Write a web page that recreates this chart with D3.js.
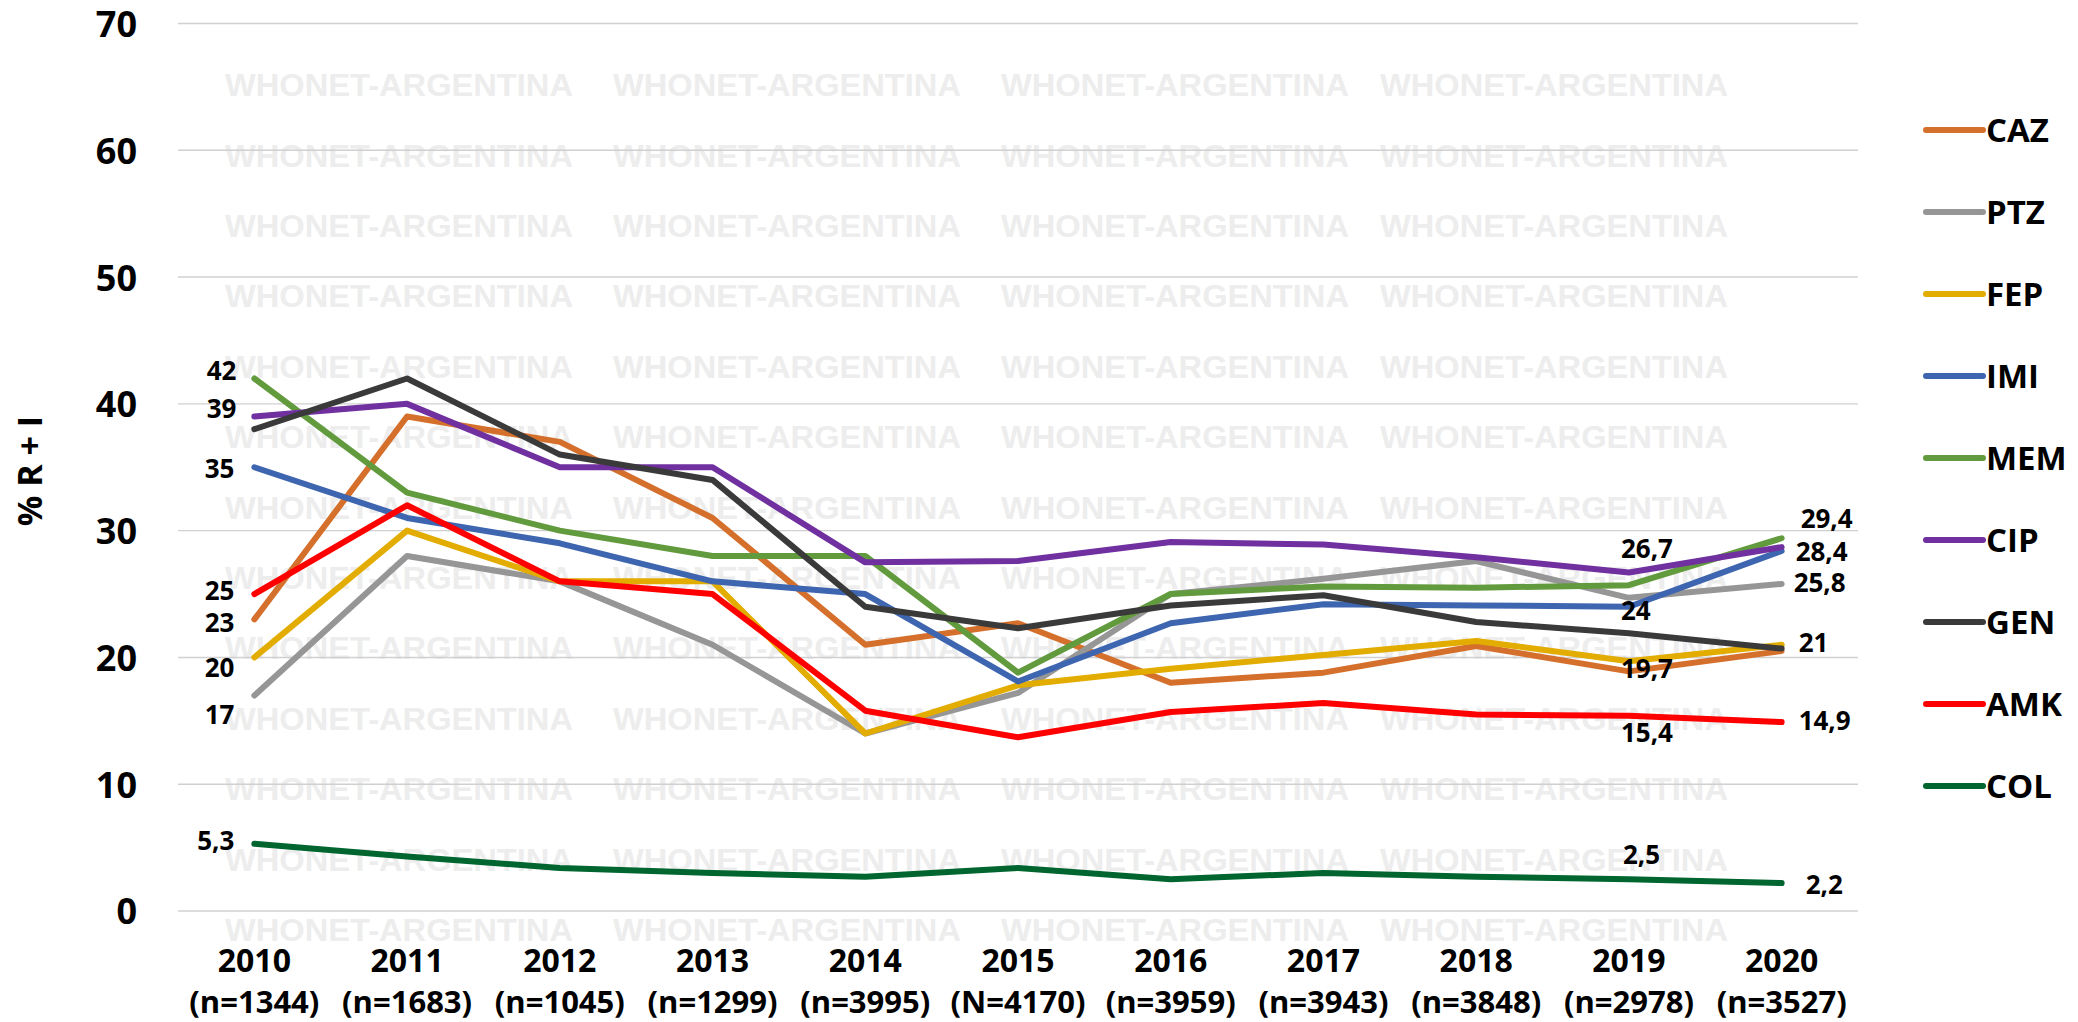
<!DOCTYPE html>
<html>
<head>
<meta charset="utf-8">
<script src="https://cdn.jsdelivr.net/npm/d3@7"></script>
<style>
  body { margin: 0; background: #fff; }
  svg { display: block; font-family: "Open Sans", "Noto Sans", sans-serif; font-weight: 700; }
</style>
</head>
<body>
<svg id="chart" width="2078" height="1022"></svg>
<script>
// --- data ---
const years = ["2010", "2011", "2012", "2013", "2014", "2015", "2016", "2017", "2018", "2019", "2020"];
const sampleSizes = ["(n=1344)", "(n=1683)", "(n=1045)", "(n=1299)", "(n=3995)", "(N=4170)",
                     "(n=3959)", "(n=3943)", "(n=3848)", "(n=2978)", "(n=3527)"];
const yTicks = [0, 10, 20, 30, 40, 50, 60, 70];

const seriesNames = ["CAZ", "PTZ", "FEP", "IMI", "MEM", "CIP", "GEN", "AMK", "COL"];
const CAZ = [23, 39, 37, 31, 21, 22.7, 18, 18.8, 20.9, 18.9, 20.5];
const PTZ = [17, 28, 26, 21, 14, 17.2, 25, 26.2, 27.6, 24.7, 25.8];
const FEP = [20, 30, 26, 26, 14, 17.8, 19.1, 20.2, 21.3, 19.7, 21];
const IMI = [35, 31, 29, 26, 25, 18.1, 22.7, 24.2, 24.1, 24, 28.4];
const MEM = [42, 33, 30, 28, 28, 18.8, 25, 25.6, 25.5, 25.7, 29.4];
const CIP = [39, 40, 35, 35, 27.5, 27.6, 29.1, 28.9, 27.9, 26.7, 28.7];
const GEN = [38, 42, 36, 34, 24, 22.3, 24.1, 24.9, 22.8, 21.9, 20.7];
const AMK = [25, 32, 26, 25, 15.8, 13.7, 15.7, 16.4, 15.5, 15.4, 14.9];
const COL = [5.3, 4.3, 3.4, 3.0, 2.7, 3.4, 2.5, 3.0, 2.7, 2.5, 2.2];

// data labels shown on the chart: [series, year index, text]
const pointLabels = [
  ["MEM", 0, "42"], ["CIP", 0, "39"], ["IMI", 0, "35"], ["AMK", 0, "25"],
  ["CAZ", 0, "23"], ["FEP", 0, "20"], ["PTZ", 0, "17"], ["COL", 0, "5,3"],
  ["CIP", 9, "26,7"], ["IMI", 9, "24"], ["FEP", 9, "19,7"], ["AMK", 9, "15,4"], ["COL", 9, "2,5"],
  ["MEM", 10, "29,4"], ["IMI", 10, "28,4"], ["PTZ", 10, "25,8"], ["FEP", 10, "21"],
  ["AMK", 10, "14,9"], ["COL", 10, "2,2"]
];

// --- styling ---
const colors = {
  CAZ: "#D5702C", PTZ: "#969696", FEP: "#E2AC00", IMI: "#3E65AF", MEM: "#629B3E",
  CIP: "#7030A0", GEN: "#3A3A3A", AMK: "#FF0000", COL: "#00652F"
};
// hand placement of each label relative to its point (as in the original)
const labelOffsets = {
  "MEM0": [-18, -8], "CIP0": [-18, -8], "IMI0": [-20, 1], "AMK0": [-20, -3],
  "CAZ0": [-20, 3], "FEP0": [-20, 10], "PTZ0": [-20, 19], "COL0": [-20, -3],
  "CIP9": [-8, -24], "IMI9": [-8, 4], "FEP9": [-8, 7], "AMK9": [-8, 17], "COL9": [-6, -25],
  "MEM10": [19, -20], "IMI10": [14, 1], "PTZ10": [12, -1], "FEP10": [17, -2],
  "AMK10": [17, -1], "COL10": [24, 2]
};

const valuesByName = { CAZ, PTZ, FEP, IMI, MEM, CIP, GEN, AMK, COL };
const series = seriesNames.map(name => ({ name, values: valuesByName[name] }));

const svg = d3.select("#chart");

const x = d3.scalePoint()
  .domain(years)
  .range([178, 1858])
  .padding(0.5);

const y = d3.scaleLinear()
  .domain([0, 70])
  .range([911, 23.5]);

// watermark behind everything
const wmRows = d3.range(13).map(k => 85 + k * 70.4);
const wmCols = [225, 613, 1001, 1380];
const wm = svg.append("g")
  .style("font-family", "'Liberation Sans', Arial, sans-serif")
  .style("font-size", "31px")
  .style("font-weight", 700)
  .attr("fill", "#EDEDED");
wmRows.forEach(ry => {
  wmCols.forEach(cx => {
    wm.append("text")
      .attr("x", cx)
      .attr("y", ry)
      .attr("dy", "0.36em")
      .attr("textLength", 348)
      .attr("lengthAdjust", "spacingAndGlyphs")
      .text("WHONET-ARGENTINA");
  });
});

// gridlines
svg.append("g")
  .selectAll("line")
  .data(yTicks)
  .join("line")
  .attr("x1", 178)
  .attr("x2", 1858)
  .attr("y1", d => y(d))
  .attr("y2", d => y(d))
  .attr("stroke", "#D0D0D0")
  .attr("stroke-width", 1.4);

// y axis labels
const yAxis = svg.append("g")
  .attr("transform", "translate(178,0)")
  .call(d3.axisLeft(y).tickValues(yTicks).tickSize(0).tickPadding(41));
yAxis.select(".domain").remove();
yAxis.selectAll("text")
  .style("font-family", "'Open Sans', sans-serif")
  .style("font-size", "36px")
  .style("font-weight", 700)
  .attr("fill", "#000")
  .attr("dy", "0.36em");

// x axis labels: year + sample size
const xLabels = svg.append("g");
xLabels.selectAll("text.year")
  .data(years)
  .join("text")
  .attr("class", "year")
  .attr("x", d => x(d))
  .attr("y", 960)
  .attr("dy", "0.36em")
  .attr("text-anchor", "middle")
  .style("font-size", "32px")
  .text(d => d);
xLabels.selectAll("text.n")
  .data(sampleSizes)
  .join("text")
  .attr("class", "n")
  .attr("x", (d, i) => x(years[i]))
  .attr("y", 1002)
  .attr("dy", "0.36em")
  .attr("text-anchor", "middle")
  .style("font-size", "31px")
  .text(d => d);

// y axis title
svg.append("text")
  .attr("transform", "translate(30,471) rotate(-90)")
  .attr("dy", "0.36em")
  .attr("text-anchor", "middle")
  .style("font-size", "34px")
  .text("% R + I");

// lines
const line = d3.line()
  .x((d, i) => x(years[i]))
  .y(d => y(d));

svg.append("g")
  .selectAll("path")
  .data(series)
  .join("path")
  .attr("d", d => line(d.values))
  .attr("fill", "none")
  .attr("stroke", d => colors[d.name])
  .attr("stroke-width", 6)
  .attr("stroke-linecap", "round")
  .attr("stroke-linejoin", "round");

// point labels
svg.append("g")
  .selectAll("text")
  .data(pointLabels)
  .join("text")
  .each(function ([name, i, txt]) {
    const off = labelOffsets[name + i];
    const px = x(years[i]);
    const py = y(valuesByName[name][i]);
    d3.select(this)
      .attr("x", px + off[0])
      .attr("y", py + off[1])
      .attr("dy", "0.36em")
      .attr("text-anchor", i === 0 ? "end" : "start")
      .style("font-size", "26px")
      .text(txt);
  });

// legend
const legend = svg.append("g")
  .selectAll("g")
  .data(seriesNames)
  .join("g")
  .attr("transform", (d, i) => `translate(1926,${130 + i * 82})`);
legend.append("line")
  .attr("x1", 0)
  .attr("x2", 57)
  .attr("stroke", d => colors[d])
  .attr("stroke-width", 6)
  .attr("stroke-linecap", "round");
legend.append("text")
  .attr("x", 60)
  .attr("dy", "0.36em")
  .style("font-size", "33px")
  .text(d => d);
</script>
</body>
</html>
